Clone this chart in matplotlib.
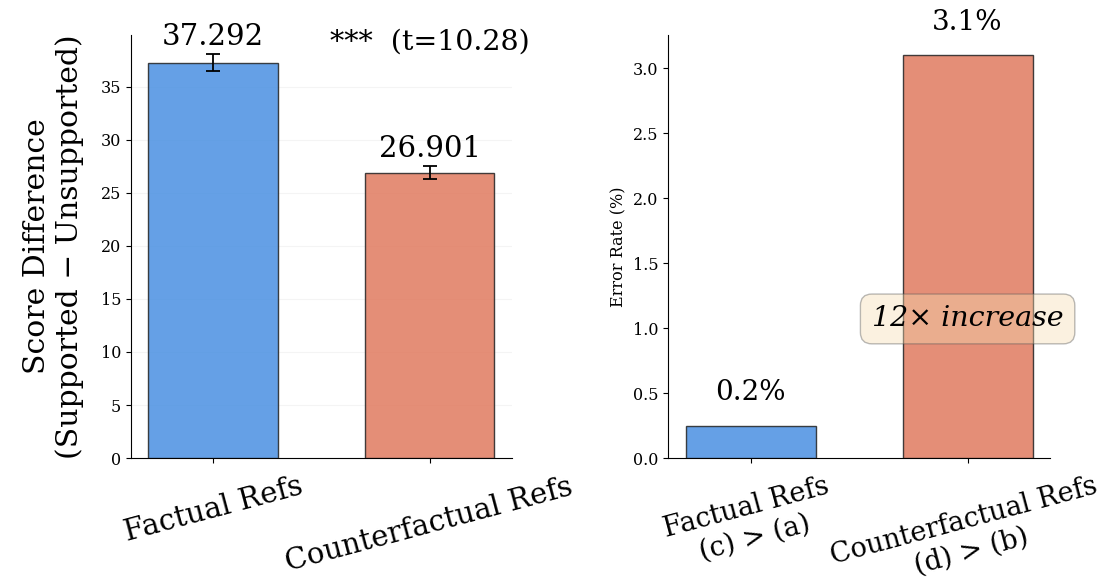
import matplotlib
matplotlib.use("Agg")
import matplotlib.pyplot as plt

plt.rcParams['font.family'] = 'DejaVu Serif'

# left panel: score difference
groups = ["Factual Refs", "Counterfactual Refs"]
score_diff = [37.292, 26.901]
score_err = [0.8, 0.6]
t_stat = 10.28

# right panel: error rate
err_labels = ["Factual Refs\n(c) > (a)", "Counterfactual Refs\n(d) > (b)"]
err_rate = [0.25, 3.1]
ratio_text = "12× increase"

colors = ["#4A90E2", "#E07A5F"]
big = 21

fig = plt.figure(figsize=(11.1, 5.82), dpi=100)
ax1 = fig.add_axes([0.118, 0.213, 0.343, 0.727])
ax2 = fig.add_axes([0.602, 0.213, 0.344, 0.727])

x = range(len(groups))
ax1.bar(x, score_diff, width=0.6, color=colors, alpha=0.85,
        edgecolor="#222222", linewidth=1.0, zorder=3)
ax1.errorbar(x, score_diff, yerr=score_err, fmt="none", ecolor="black",
             capsize=5, elinewidth=1.3, capthick=1.3, zorder=4)
for i, (v, e) in enumerate(zip(score_diff, score_err)):
    ax1.text(i, v + e + 0.3, f"{v:.3f}", ha="center", va="bottom", fontsize=big)
ax1.text(1.0, 39.2, f"***  (t={t_stat:.2f})", ha="center", va="center", fontsize=big - 0.5)
ax1.set_ylim(0, 39.9)
ax1.set_xticks(list(x))
ax1.set_xticklabels(groups, rotation=15, ha="center", fontsize=big)
ax1.set_ylabel("Score Difference\n(Supported − Unsupported)", fontsize=big + 0.5, labelpad=12)
ax1.tick_params(axis="y", labelsize=11.5)
ax1.grid(axis="y", alpha=0.3, linewidth=0.8, color="#dddddd", zorder=0)
ax1.set_axisbelow(True)

ax2.bar(x, err_rate, width=0.6, color=colors, alpha=0.85,
        edgecolor="#222222", linewidth=1.0, zorder=3)
for i, v in enumerate(err_rate):
    ax2.text(i, v + 0.15, f"{v:.1f}%", ha="center", va="bottom",
             fontsize=big - 1, clip_on=False)
ax2.text(1.0, 1.07, ratio_text, ha="center", va="center", fontsize=big - 0.5,
         style="italic", zorder=5,
         bbox=dict(boxstyle="round,pad=0.4", facecolor="wheat", alpha=0.4,
                   edgecolor="#555555"))
ax2.set_ylim(0, 3.255)
ax2.set_xticks(list(x))
ax2.set_xticklabels(err_labels, rotation=15, ha="center", fontsize=big - 1.5)
ax2.set_ylabel("Error Rate (%)", fontsize=11.5)
ax2.tick_params(axis="y", labelsize=11.5)

for ax in (ax1, ax2):
    ax.spines["top"].set_visible(False)
    ax.spines["right"].set_visible(False)
    ax.tick_params(axis="x", pad=7)

fig.savefig("out.png", dpi=100)
